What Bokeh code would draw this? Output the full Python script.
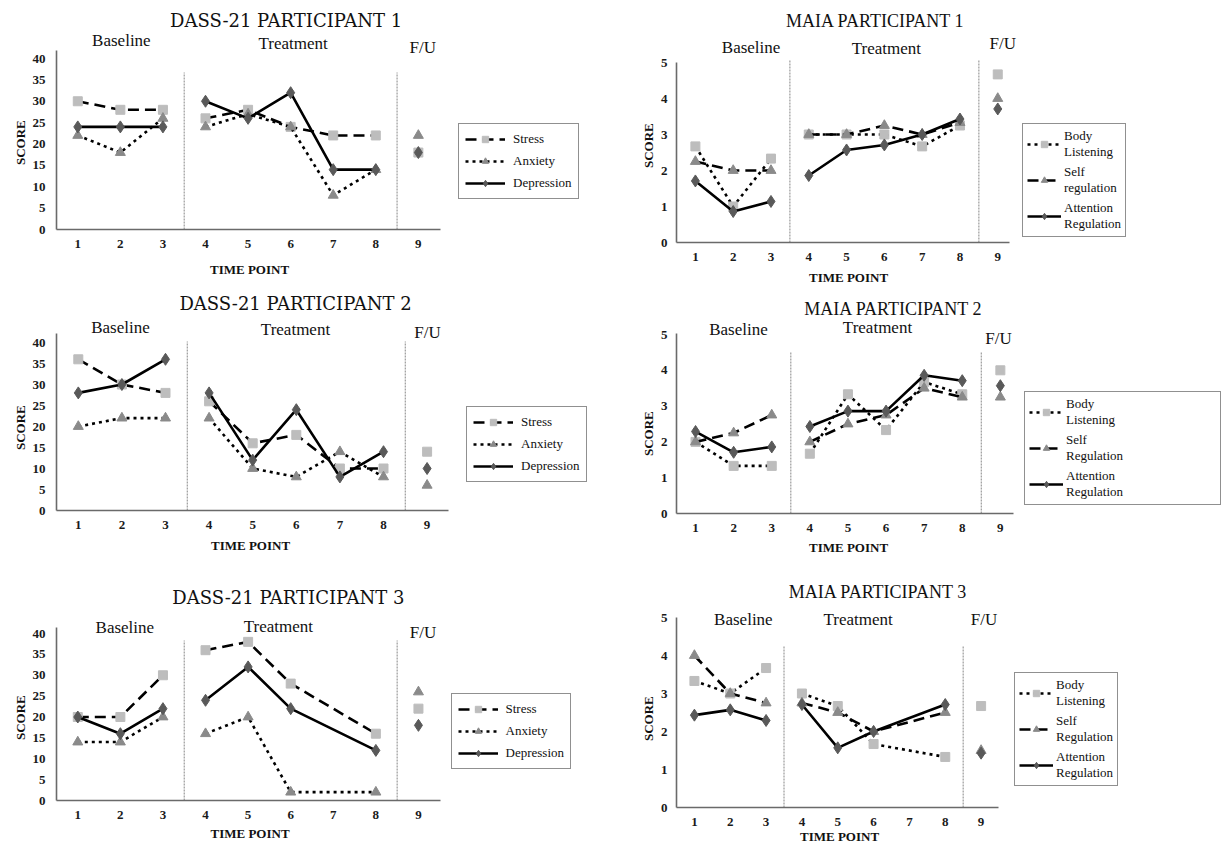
import math
from bokeh.plotting import figure
from bokeh.models import Range1d, FixedTicker, Label, Legend, LegendItem, Title
from bokeh.layouts import row, column
from bokeh.embed import file_html
from bokeh.resources import INLINE

# ---------------- data ----------------
time_points = [1, 2, 3, 4, 5, 6, 7, 8, 9]
baseline_points = [1, 2, 3]
treatment_points = [4, 5, 6, 7, 8]
followup_points = [9]
phase_boundaries = [3.5, 8.5]
phase_labels = ["Baseline", "Treatment", "F/U"]

dass_series = ["Stress", "Anxiety", "Depression"]
maia1_series = ["Body\nListening", "Self\nregulation", "Attention\nRegulation"]
maia_series = ["Body\nListening", "Self\nRegulation", "Attention\nRegulation"]

dass_yticks = [0, 5, 10, 15, 20, 25, 30, 35, 40]
maia_yticks = [0, 1, 2, 3, 4, 5]

dass1_stress = [30, 28, 28, 26, 28, 24, 22, 22, 18]
dass1_anxiety = [22, 18, 26, 24, 27, 24, 8, 14, 22]
dass1_depression = [24, 24, 24, 30, 26, 32, 14, 14, 18]

dass2_stress = [36, 30, 28, 26, 16, 18, 10, 10, 14]
dass2_anxiety = [20, 22, 22, 22, 10, 8, 14, 8, 6]
dass2_depression = [28, 30, 36, 28, 12, 24, 8, 14, 10]

dass3_stress = [20, 20, 30, 36, 38, 28, None, 16, 22]
dass3_anxiety = [14, 14, 20, 16, 20, 2, None, 2, 26]
dass3_depression = [20, 16, 22, 24, 32, 22, None, 12, 18]

maia1_body = [2.67, 1.0, 2.33, 3.0, 3.0, 3.0, 2.67, 3.25, 4.67]
maia1_self = [2.25, 2.0, 2.0, 3.0, 3.0, 3.25, 3.0, 3.33, 4.0]
maia1_attention = [1.71, 0.86, 1.14, 1.86, 2.57, 2.71, 3.0, 3.43, 3.71]

maia2_body = [2.0, 1.33, 1.33, 1.67, 3.33, 2.33, 3.67, 3.33, 4.0]
maia2_self = [2.0, 2.25, 2.75, 2.0, 2.5, 2.75, 3.5, 3.25, 3.25]
maia2_attention = [2.29, 1.71, 1.86, 2.43, 2.86, 2.86, 3.86, 3.71, 3.57]

maia3_body = [3.33, 3.0, 3.67, 3.0, 2.67, 1.67, None, 1.33, 2.67]
maia3_self = [4.0, 3.0, 2.75, 2.75, 2.5, 2.0, None, 2.5, 1.5]
maia3_attention = [2.43, 2.57, 2.29, 2.71, 1.57, 2.0, None, 2.71, 1.43]

# ---------------- styles ----------------
SERIF = "Liberation Serif"
LIGHT, MID, DARK = "#bdbdbd", "#8a8a8a", "#595959"
dass_styles = [
    dict(dash="11 6", marker="square", color=LIGHT, size=9),
    dict(dash="3 4", marker="triangle", color=MID, size=10),
    dict(dash="solid", marker="diamond", color=DARK, size=12),
]
maia_styles = [
    dict(dash="3 4", marker="square", color=LIGHT, size=9),
    dict(dash="11 6", marker="triangle", color=MID, size=10),
    dict(dash="solid", marker="diamond", color=DARK, size=12),
]

SCORE_HALF = 22.5      # half length of "SCORE" text, px
TIMEPOINT_HALF = 39.5  # half length of "TIME POINT" text, px


def make_panel(title, title_font, title_size, names, series, styles, yticks, g):
    left, top, W, H = g["fig"]
    axl, axb, ppx, ppy = g["ax"]

    def dx(px):
        return 0.5 + (px - axl) / ppx

    def dy(py):
        return (axb - py) / ppy

    p = figure(width=W, height=H,
               x_range=Range1d(0.5, dx(left + W)), y_range=Range1d(0, dy(top)),
               output_backend="svg", toolbar_location=None, title=None,
               min_border_left=int(round(axl - left)), min_border_right=0,
               min_border_top=0, min_border_bottom=int(round(top + H - axb)),
               outline_line_color=None, background_fill_color="white")
    p.xgrid.visible = False
    p.ygrid.visible = False
    for ax in (p.xaxis, p.yaxis):
        ax.major_tick_line_color = None
        ax.minor_tick_line_color = None
        ax.major_tick_out = 0
        ax.major_tick_in = 0
        ax.axis_line_color = "#6a6a6a"
        ax.axis_line_width = 1.6
        ax.major_label_text_font = SERIF
        ax.major_label_text_font_size = "13px"
        ax.major_label_text_font_style = "bold"
        ax.major_label_text_color = "#1a1a1a"
    p.xaxis.ticker = FixedTicker(ticks=time_points)
    p.xaxis.bounds = (0.5, dx(g["xend"]))
    p.xaxis.major_label_standoff = g.get("xstand", 10)
    p.yaxis.ticker = FixedTicker(ticks=yticks)
    p.yaxis.bounds = (0, dy(g["ytop"]))
    p.yaxis.major_label_standoff = g.get("ystand", 11)

    # axis titles as side titles
    sx, sy = g["score"]
    p.add_layout(Title(text="SCORE", align="left", offset=axb - (sy + SCORE_HALF),
                       text_font=SERIF, text_font_size="13px", text_font_style="bold",
                       text_color="#111111", standoff=4), "left")
    tx, ty = g["timepoint"]
    p.add_layout(Title(text="TIME POINT", align="left", offset=(tx - TIMEPOINT_HALF) - axl,
                       text_font=SERIF, text_font_size="13px", text_font_style="bold",
                       text_color="#111111", standoff=g.get("tstand", 6),
                       vertical_align="top"), "below")

    # phase separators
    sep_top = dy(g["septop"])
    p.segment(x0=phase_boundaries, y0=[0, 0], x1=phase_boundaries, y1=[sep_top, sep_top],
              line_color="#9a9a9a", line_width=1.2, line_dash="2 1")

    items = []
    for name, vals, st in zip(names, series, styles):
        rend = []
        for seg in (baseline_points, treatment_points):
            xs = [t for t in seg if vals[t - 1] is not None]
            ys = [vals[t - 1] for t in xs]
            r = p.line(xs, ys, line_color="black", line_width=2.6,
                       line_dash=st["dash"], line_cap="butt")
            rend.append(r)
        xs = [t for t in time_points if vals[t - 1] is not None]
        ys = [vals[t - 1] for t in xs]
        s = p.scatter(xs, ys, marker=st["marker"], size=st["size"],
                      fill_color=st["color"], line_color=st["color"])
        items.append(LegendItem(label=name, renderers=[rend[1], s]))

    lg = g["legend"]
    legend = Legend(items=items, location=(lg[0] - axl, axb - lg[3]),
                    border_line_color="#222222", border_line_width=1.4,
                    background_fill_color="white", background_fill_alpha=1.0,
                    label_text_font=SERIF, label_text_font_size="13px",
                    label_text_color="#111111",
                    glyph_width=g.get("glyph_w", 40), glyph_height=16,
                    label_standoff=g.get("standoff", 8), padding=g.get("pad", 6),
                    spacing=g.get("spacing", 4), margin=0,
                    label_height=g.get("label_h", 18),
                    label_width=g.get("label_w", 20))
    p.add_layout(legend)

    def lab(px, py, text, size, font=SERIF):
        p.add_layout(Label(x=dx(px), y=dy(py), text=text, text_align="center",
                           text_baseline="middle", text_font=font,
                           text_font_size=size, text_color="#111111"))

    lab(*g["title"], title, title_size, font=title_font)
    for (px, py), t in zip(g["phases"], phase_labels):
        lab(px, py, t, "17px")
    return p


geoms = [
    dict(fig=(0, 0, 600, 289), ax=(55, 229, 42.65, 4.275), xend=440, ytop=50, septop=72,
         title=(285, 20), phases=[(120, 40), (292, 43), (422, 47)], score=(18, 142),
         timepoint=(248, 270), legend=(457, 125, 579, 199), tstand=22),
    dict(fig=(0, 289, 600, 276), ax=(56, 510, 43.6, 4.2), xend=448, ytop=333, septop=341,
         title=(295, 303), phases=[(120, 327), (295, 329), (427, 332)], score=(18, 427),
         timepoint=(250, 546), legend=(466, 407, 588, 482), tstand=12),
    dict(fig=(0, 565, 600, 283), ax=(54.5, 800, 42.7, 4.175), xend=440, ytop=627, septop=640,
         title=(287, 597), phases=[(123, 627), (277, 626), (422, 632)], score=(18, 717),
         timepoint=(248, 834), legend=(449, 686, 573, 769), tstand=9),
    dict(fig=(600, 0, 627, 292), ax=(673, 242, 38, 36), xend=1008, ytop=62, septop=59,
         title=(873, 20), phases=[(748, 47), (884, 48), (1001, 43)], score=(647, 145),
         timepoint=(845, 277), legend=(1019, 125, 1118, 237), ystand=9,
         glyph_w=34, standoff=3, pad=4, label_h=30, tstand=12),
    dict(fig=(600, 292, 627, 275), ax=(676, 513, 38.1, 35.8), xend=1013, ytop=333, septop=351,
         title=(893, 308), phases=[(738, 329), (877, 327), (998, 338)], score=(650, 433),
         timepoint=(848, 548), legend=(1024, 379, 1225, 505), ystand=9,
         glyph_w=34, standoff=3, pad=4, label_h=30, label_w=150, tstand=10),
    dict(fig=(600, 567, 627, 281), ax=(675, 807, 35.9, 38), xend=998, ytop=617, septop=646,
         title=(877, 591), phases=[(742, 619), (857, 619), (983, 619)], score=(650, 718),
         timepoint=(838, 832), legend=(1013, 673, 1113, 786), ystand=9,
         glyph_w=34, standoff=3, pad=4, label_h=30, tstand=0),
]

DASS_FONT = "DejaVu Serif"
p1 = make_panel("DASS-21 PARTICIPANT 1", DASS_FONT, "18px", dass_series,
                [dass1_stress, dass1_anxiety, dass1_depression], dass_styles, dass_yticks, geoms[0])
p2 = make_panel("DASS-21 PARTICIPANT 2", DASS_FONT, "18px", dass_series,
                [dass2_stress, dass2_anxiety, dass2_depression], dass_styles, dass_yticks, geoms[1])
p3 = make_panel("DASS-21 PARTICIPANT 3", DASS_FONT, "18px", dass_series,
                [dass3_stress, dass3_anxiety, dass3_depression], dass_styles, dass_yticks, geoms[2])
p4 = make_panel("MAIA PARTICIPANT 1", SERIF, "18px", maia1_series,
                [maia1_body, maia1_self, maia1_attention], maia_styles, maia_yticks, geoms[3])
p5 = make_panel("MAIA PARTICIPANT 2", SERIF, "18px", maia_series,
                [maia2_body, maia2_self, maia2_attention], maia_styles, maia_yticks, geoms[4])
p6 = make_panel("MAIA PARTICIPANT 3", SERIF, "18px", maia_series,
                [maia3_body, maia3_self, maia3_attention], maia_styles, maia_yticks, geoms[5])

layout = row(column(p1, p2, p3), column(p4, p5, p6))
open("out.html", "w").write(file_html(layout, INLINE))
